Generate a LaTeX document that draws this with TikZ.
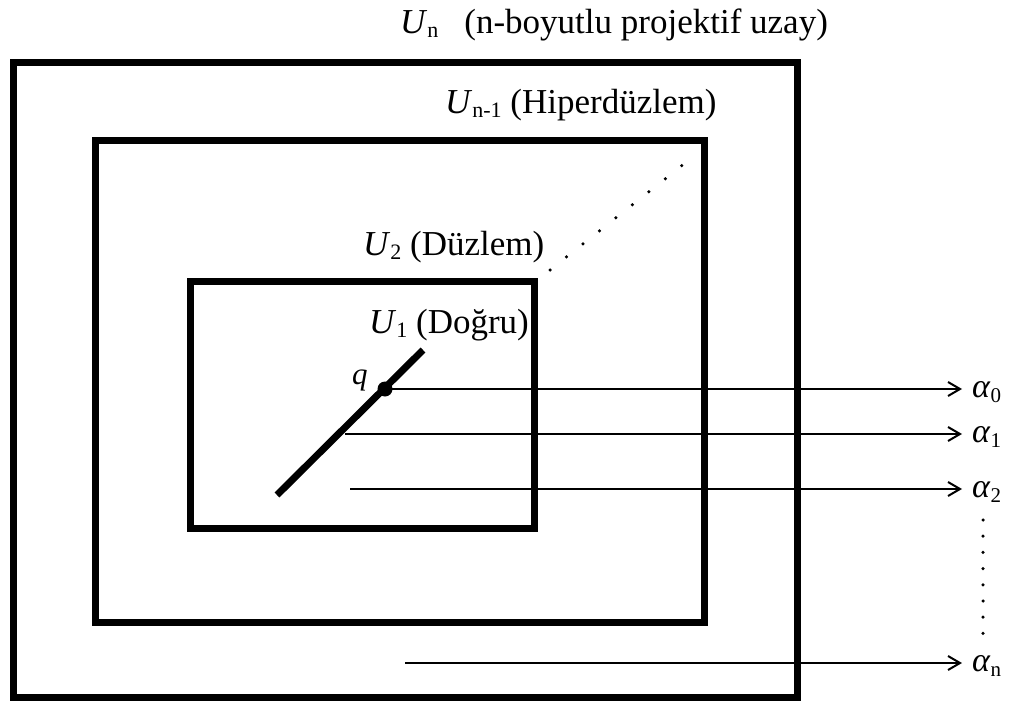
\documentclass[tikz,border=0pt]{standalone}
\usepackage{fontspec}
\setmainfont{Liberation Serif}
\usetikzlibrary{arrows.meta}
\newcommand{\Usub}[2]{\textit{#1}\raisebox{-4pt}{\fontsize{22}{22}\selectfont #2}}
\newcommand{\asub}[1]{\textit{α}\raisebox{-5pt}{\fontsize{21}{21}\selectfont #1}}
\begin{document}
\begin{tikzpicture}[x=1pt,y=-1pt,
  box/.style={line width=7pt},
  lab/.style={anchor=base west, inner sep=0pt, font=\fontsize{35}{40}\selectfont},
  ray/.style={line width=2pt, shorten >=10pt, -{Straight Barb[length=12pt,width=14pt,line width=2pt]}},
  alab/.style={anchor=base west, inner sep=0pt, font=\fontsize{34}{38}\selectfont},
  dots/.style={line width=3.5pt, line cap=round, dash pattern=on 0pt off #1}]
\useasboundingbox (0,0) rectangle (1010,704);
% spaces
\draw[box] (13,62) rectangle (797,697);
\draw[box] (95,140) rectangle (704,622);
\draw[box] (190,281) rectangle (534,528);
% labels
\node[lab] (Un) at (400,33) {\Usub{U}{n}\hspace{26pt}(n-boyutlu projektif uzay)};
\node[lab] (Un1) at (445,113) {\Usub{U}{n-1} (Hiperdüzlem)};
\node[lab] (U2) at (363,255) {\Usub{U}{2} (Düzlem)};
\node[lab] (U1) at (369,333) {\Usub{U}{1} (Doğru)};
% dotted diagonal
\coordinate (d1) at (550,270);
\coordinate (d2) at (694,156);
\draw[dots=21pt] (d1) -- (d2);
% line and point
\coordinate (s1) at (277,495);
\coordinate (s2) at (423,350);
\draw[line width=7pt] (s1) -- (s2);
\node[circle, fill, inner sep=0pt, minimum size=15pt] (q) at (385,389) {};
\node[lab, font=\fontsize{31}{36}\selectfont] (ql) at (352,384) {\textit{q}};
% alpha labels
\node[alab] (a0) at (972,397) {\asub{0}};
\node[alab] (a1) at (972,442) {\asub{1}};
\node[alab] (a2) at (972,497) {\asub{2}};
\node[alab] (an) at (972,671) {\asub{n}};
% ray starts
\coordinate (c1) at (345,434);
\coordinate (c2) at (350,489);
\coordinate (cn) at (405,663);
\draw[ray] (q.center) -- (q.center -| a0.west);
\draw[ray] (c1) -- (c1 -| a1.west);
\draw[ray] (c2) -- (c2 -| a2.west);
\draw[ray] (cn) -- (cn -| an.west);
% vertical dots
\coordinate (v1) at (983,520);
\coordinate (v2) at (983,634);
\draw[dots=16.2pt] (v1) -- (v2);
\end{tikzpicture}
\end{document}
